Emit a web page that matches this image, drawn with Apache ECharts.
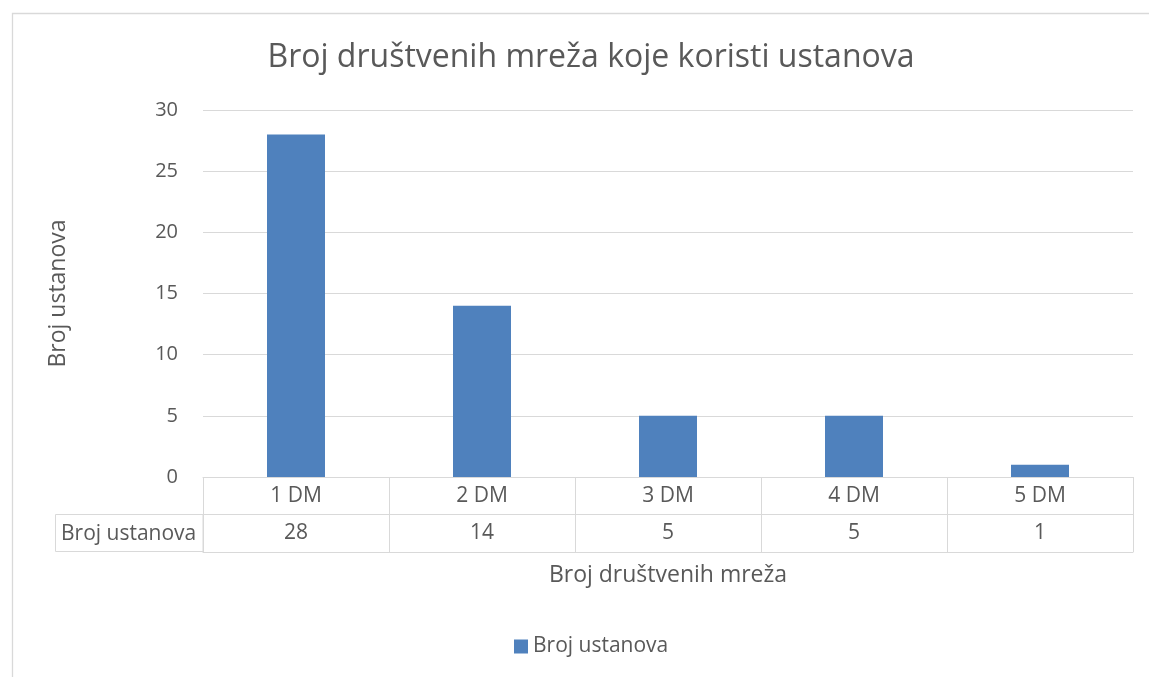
<!DOCTYPE html>
<html>
<head>
<meta charset="utf-8">
<script src="https://cdn.jsdelivr.net/npm/echarts@6/dist/echarts.min.js"></script>
<style>
  html, body { margin: 0; padding: 0; background: #fff; }
  #chart { width: 1149px; height: 677px; }
</style>
</head>
<body>
<div id="chart"></div>
<script>
var titleText = 'Broj društvenih mreža koje koristi ustanova';
var categories = ['1 DM', '2 DM', '3 DM', '4 DM', '5 DM'];
var seriesName = 'Broj ustanova';
var counts = [28, 14, 5, 5, 1];
var yTicks = { min: 0, max: 30, interval: 5 };
var xName = 'Broj društvenih mreža';
var yName = 'Broj ustanova';

var ink = '#595959';
var rule = '#d9d9d9';
var blue = '#4f81bd';
var font = '"Open Sans", sans-serif';

var chart = echarts.init(document.getElementById('chart'), null, { renderer: 'canvas' });
chart.setOption({
  animation: false,
  textStyle: { fontFamily: font },
  title: {
    text: titleText,
    left: 586,
    textAlign: 'center',
    top: 37,
    textStyle: { color: ink, fontSize: 32, fontWeight: 'normal', fontFamily: font }
  },
  legend: {
    left: 514,
    top: 636,
    padding: 0,
    itemWidth: 14,
    itemHeight: 14,
    icon: 'rect',
    textStyle: { color: ink, fontSize: 21, fontFamily: font },
    data: [seriesName]
  },
  grid: { left: 203, right: 16, top: 110, bottom: 200 },
  xAxis: [
    {
      type: 'category',
      data: categories,
      axisLine: { lineStyle: { color: rule } },
      axisTick: { show: true, length: 75, interval: 0, lineStyle: { color: rule } },
      axisLabel: { color: ink, fontSize: 21, margin: 9, fontFamily: font }
    },
    {
      type: 'category',
      position: 'bottom',
      offset: 37,
      data: counts.map(String),
      axisLine: { show: true, lineStyle: { color: rule } },
      axisTick: { show: false },
      axisLabel: { color: ink, fontSize: 21, margin: 9, fontFamily: font }
    },
    {
      type: 'category',
      position: 'bottom',
      offset: 75,
      data: categories,
      axisLine: { show: true, lineStyle: { color: rule } },
      axisTick: { show: false },
      axisLabel: { show: false },
      name: xName,
      nameLocation: 'middle',
      nameGap: 12,
      nameTextStyle: { color: ink, fontSize: 23, fontFamily: font }
    }
  ],
  yAxis: {
    type: 'value',
    min: yTicks.min,
    max: yTicks.max,
    interval: yTicks.interval,
    name: yName,
    nameLocation: 'middle',
    nameGap: 133,
    nameTextStyle: { color: ink, fontSize: 23, fontFamily: font },
    axisLine: { show: false },
    axisTick: { show: false },
    axisLabel: { color: ink, fontSize: 20, margin: 25, fontFamily: font },
    splitLine: { lineStyle: { color: rule, width: 1 } }
  },
  graphic: [
    {
      type: 'rect',
      left: 10, top: 11,
      shape: { x: 0.5, y: 0.5, width: 1300, height: 800 },
      style: { fill: 'none', stroke: rule, lineWidth: 1.3 },
      silent: true
    },
    {
      type: 'rect',
      shape: { x: 55.5, y: 514.5, width: 147.5, height: 37 },
      style: { fill: 'none', stroke: rule, lineWidth: 1 },
      silent: true
    },
    {
      type: 'text',
      x: 61, y: 534,
      style: { text: seriesName, fill: ink, font: '21px "Open Sans", sans-serif', verticalAlign: 'middle' },
      silent: true
    }
  ],
  series: [{
    name: seriesName,
    type: 'bar',
    xAxisIndex: 0,
    data: counts,
    barWidth: 58,
    itemStyle: { color: blue }
  }]
});
</script>
</body>
</html>
